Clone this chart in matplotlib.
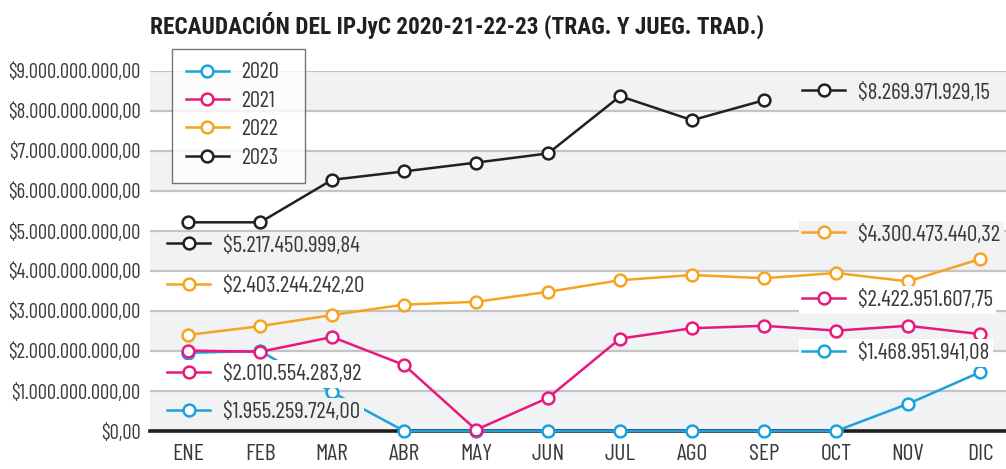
import numpy as np
import matplotlib
matplotlib.use("Agg")
import matplotlib.pyplot as plt
from matplotlib import font_manager
from matplotlib.lines import Line2D
from matplotlib.ticker import FuncFormatter

instaladas = {f.name for f in font_manager.fontManager.ttflist}
candidatas = ["Barlow Condensed", "Fira Sans Extra Condensed", "Roboto Condensed",
              "Archivo Narrow", "PT Sans Narrow"]
fuente = next((c for c in candidatas if c in instaladas), "DejaVu Sans")
fuente_tit = next((c for c in ["Roboto Condensed", fuente] if c in instaladas), fuente)
plt.rcParams['font.family'] = [fuente, 'DejaVu Sans']

meses = ["ENE", "FEB", "MAR", "ABR", "MAY", "JUN", "JUL", "AGO", "SEP", "OCT", "NOV", "DIC"]

# valores en miles de millones de pesos
v2020 = [1.955, 2.00, 0.97, 0, 0, 0, 0, 0, 0, 0, 0.68, 1.469]
v2021 = [2.011, 1.98, 2.35, 1.65, 0.03, 0.83, 2.31, 2.57, 2.63, 2.51, 2.63, 2.423]
v2022 = [2.403, 2.62, 2.90, 3.16, 3.23, 3.48, 3.77, 3.90, 3.82, 3.95, 3.74, 4.300]
v2023 = [5.217, 5.217, 6.28, 6.49, 6.71, 6.94, 8.37, 7.77, 8.270]

series = [("2020", v2020, "#1ba1db"),
          ("2021", v2021, "#e8187f"),
          ("2022", v2022, "#f6a31f"),
          ("2023", v2023, "#231f20")]

# etiquetas: (texto, color, y px)
etiq_izq = [("$5.217.450.999,84", "#231f20", 246),
            ("$2.403.244.242,20", "#f6a31f", 286),
            ("$2.010.554.283,92", "#e8187f", 374),
            ("$1.955.259.724,00", "#1ba1db", 412)]
etiq_der = [("$8.269.971.929,15", "#231f20", 93),
            ("$4.300.473.440,32", "#f6a31f", 235),
            ("$2.422.951.607,75", "#e8187f", 300),
            ("$1.468.951.941,08", "#1ba1db", 353)]

titulo = "RECAUDACIÓN DEL IPJyC 2020-21-22-23 (TRAG. Y JUEG. TRAD.)"

gris = "#f1f2f4"
texto = "#3a3a3a"
W, H = 1006, 469

fig = plt.figure(figsize=(W / 100, H / 100), dpi=100)
rend = fig.canvas.get_renderer()


def tam(s, ancho, **kw):
    # tamaño de letra para que el texto mida "ancho" px
    t = fig.text(0, 0, s, fontsize=20, **kw)
    w = t.get_window_extent(rend).width
    t.remove()
    return 20 * ancho / w


fs_ticks = tam("$9.000.000.000,00", 133)
fs_meses = tam("ENE", 32)
fs_etq = tam("$4.300.473.440,32", 142)
fs_leg = tam("2020", 38)
fs_tit = tam(titulo, 613, fontweight="bold", family=[fuente_tit, "DejaVu Sans"])

ax = fig.add_axes([150 / W, (H - 431) / H, (W - 150) / W, (431 - 71) / H])

for k in range(0, 9, 2):
    ax.axhspan(k * 1e9, (k + 1) * 1e9, color=gris, zorder=0, lw=0)
for k in range(1, 10):
    ax.axhline(k * 1e9, color="#c4c4c4", lw=1.6, zorder=1)
ax.axhline(0, color="#231f20", lw=2.6, zorder=2, clip_on=False)

x = np.arange(len(meses))
for nombre, vals, col in series:
    ax.plot(x[:len(vals)], np.array(vals) * 1e9, color=col, lw=1.8, marker="o",
            ms=8.5, mfc="white", mec=col, mew=1.8, label=nombre, zorder=3,
            clip_on=False)

ax.set_xlim(-0.53, 11.36)
ax.set_ylim(0, 9e9)
ax.set_yticks(np.arange(0, 10) * 1e9)
ax.yaxis.set_major_formatter(FuncFormatter(
    lambda v, p: "$" + f"{v:,.2f}".replace(",", "X").replace(".", ",").replace("X", ".")))
ax.set_xticks(x)
ax.set_xticklabels(meses)
ax.tick_params(axis="both", length=0, colors=texto)
ax.tick_params(axis="y", pad=7, labelsize=fs_ticks)
ax.tick_params(axis="x", pad=9, labelsize=fs_meses)
for s in ax.spines.values():
    s.set_visible(False)

px = fs_leg * 100 / 72
leg = ax.legend(loc="upper left", bbox_to_anchor=(172 / W, 1 - 49 / H, 133 / W, 0.001),
                mode="expand", bbox_transform=fig.transFigure, borderaxespad=0,
                fontsize=fs_leg, frameon=True, fancybox=False, handlelength=43 / px,
                handletextpad=12 / px, labelspacing=0.33, borderpad=0.62,
                labelcolor=texto)
leg.get_frame().set_edgecolor("#555555")
leg.get_frame().set_linewidth(1.0)
leg.set_zorder(5)


def banda(ypx):
    v = (431 - ypx) / 40
    return gris if int(v) % 2 == 0 else "white"


pxe = fs_etq * 100 / 72


def etiqueta(txt, col, xpx, ypx):
    h = Line2D([], [], color=col, lw=1.8, marker="o", ms=8.5, mfc="white",
               mec=col, mew=1.8)
    lg = ax.legend([h], [txt], loc="center left", bbox_to_anchor=(xpx / W, 1 - ypx / H),
                   bbox_transform=fig.transFigure, borderaxespad=0, fontsize=fs_etq,
                   frameon=True, fancybox=False, handlelength=43 / pxe,
                   handletextpad=13 / pxe, borderpad=0.15, labelcolor=texto)
    lg.get_frame().set_facecolor(banda(ypx))
    lg.get_frame().set_edgecolor("none")
    lg.get_frame().set_alpha(1)
    lg.set_zorder(4)
    ax.add_artist(lg)


for txt, col, ypx in etiq_izq:
    etiqueta(txt, col, 167 - 0.15 * pxe, ypx)
for txt, col, ypx in etiq_der:
    etiqueta(txt, col, 802 - 0.15 * pxe, ypx)
ax.add_artist(leg)

fig.text(150 / W, 1 - 25 / H, titulo, family=[fuente_tit, "DejaVu Sans"],
         fontsize=fs_tit, fontweight="bold", color="#231f20", va="center", ha="left")

fig.savefig("out.png", dpi=100)
